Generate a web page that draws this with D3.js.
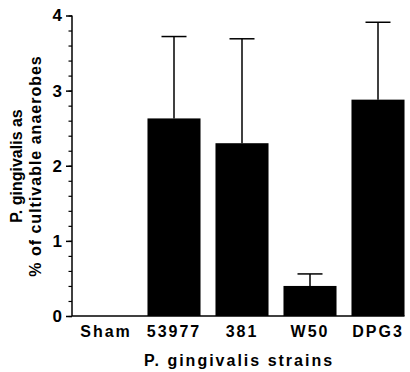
<!DOCTYPE html>
<html>
<head>
<meta charset="utf-8">
<script src="https://cdn.jsdelivr.net/npm/d3@7"></script>
<style>
  body { margin: 0; background: #fff; }
  text { font-family: "Liberation Sans", Arial, sans-serif; font-weight: bold; fill: #000; }
</style>
</head>
<body>
<div id="chart"></div>
<script>
// strains and measured % of cultivable anaerobes (mean, mean + error)
const strains = ["Sham", "53977", "381", "W50", "DPG3"];
const means = [0, 2.63, 2.30, 0.40, 2.88];
const upper = [null, 3.72, 3.69, 0.56, 3.91];
const yTicks = [0, 1, 2, 3, 4];

const width = 410;
const height = 372;

const svg = d3.select("#chart")
  .append("svg")
  .attr("width", width)
  .attr("height", height);

const x = d3.scaleBand()
  .domain(strains)
  .range([72, 412])
  .paddingInner(0.22)
  .paddingOuter(0.11);

const y = d3.scaleLinear()
  .domain([0, 4])
  .range([316, 15.5]);

const data = strains.map((s, i) => ({ name: s, mean: means[i], hi: upper[i] }));

// bars
svg.selectAll("rect.bar")
  .data(data.filter(d => d.mean > 0))
  .enter()
  .append("rect")
  .attr("class", "bar")
  .attr("x", d => x(d.name))
  .attr("y", d => y(d.mean))
  .attr("width", x.bandwidth())
  .attr("height", d => y(0) - y(d.mean))
  .attr("fill", "#000");

// error bars (upper only)
const err = svg.selectAll("g.err")
  .data(data.filter(d => d.hi != null))
  .enter()
  .append("g")
  .attr("class", "err")
  .attr("stroke", "#000")
  .attr("stroke-width", 1.5);

err.append("line")
  .attr("x1", d => x(d.name) + x.bandwidth() / 2)
  .attr("x2", d => x(d.name) + x.bandwidth() / 2)
  .attr("y1", d => y(d.mean))
  .attr("y2", d => y(d.hi));

err.append("line")
  .attr("x1", d => x(d.name) + x.bandwidth() / 2 - 12.5)
  .attr("x2", d => x(d.name) + x.bandwidth() / 2 + 12.5)
  .attr("y1", d => y(d.hi))
  .attr("y2", d => y(d.hi));

// y axis with minor ticks
const yAxis = svg.append("g")
  .attr("transform", "translate(72,0)")
  .call(d3.axisLeft(y).tickValues(d3.range(0, 4.01, 0.2)).tickSize(3.5).tickFormat(""));
yAxis.select(".domain").remove();
yAxis.selectAll(".tick line").attr("stroke-width", 1.2);

const yMajor = svg.append("g")
  .attr("transform", "translate(72,0)")
  .call(d3.axisLeft(y).tickValues(yTicks).tickSize(6).tickPadding(4).tickFormat(d3.format("d")));
yMajor.select(".domain").attr("d", `M0,${y(4)}V${y(0)}`).attr("stroke-width", 1.5);
yMajor.selectAll(".tick line").attr("stroke-width", 1.5);
yMajor.selectAll(".tick text")
  .style("font-size", "17px")
  .attr("fill", "#000");

// x axis line
svg.append("line")
  .attr("x1", 72)
  .attr("x2", x("DPG3") + x.bandwidth())
  .attr("y1", y(0))
  .attr("y2", y(0))
  .attr("stroke", "#000")
  .attr("stroke-width", 1.5);

// x category labels
svg.selectAll("text.cat")
  .data(strains)
  .enter()
  .append("text")
  .attr("class", "cat")
  .attr("x", d => x(d) + x.bandwidth() / 2)
  .attr("y", 337)
  .attr("text-anchor", "middle")
  .style("font-size", "16px")
  .style("letter-spacing", "2px")
  .text(d => d);

// x title
svg.append("text")
  .attr("x", 239)
  .attr("y", 366)
  .attr("text-anchor", "middle")
  .style("font-size", "16px")
  .style("letter-spacing", "2px")
  .text("P. gingivalis strains");

// y title (two lines)
const yTitle = ["P. gingivalis as", "% of cultivable anaerobes"];
svg.selectAll("text.ytitle")
  .data(yTitle)
  .enter()
  .append("text")
  .attr("class", "ytitle")
  .attr("transform", (d, i) => `translate(${i === 0 ? 22 : 41},166) rotate(-90)`)
  .attr("text-anchor", "middle")
  .style("font-size", "16px")
  .style("letter-spacing", (d, i) => i === 0 ? "0px" : "1px")
  .text(d => d);
</script>
</body>
</html>
